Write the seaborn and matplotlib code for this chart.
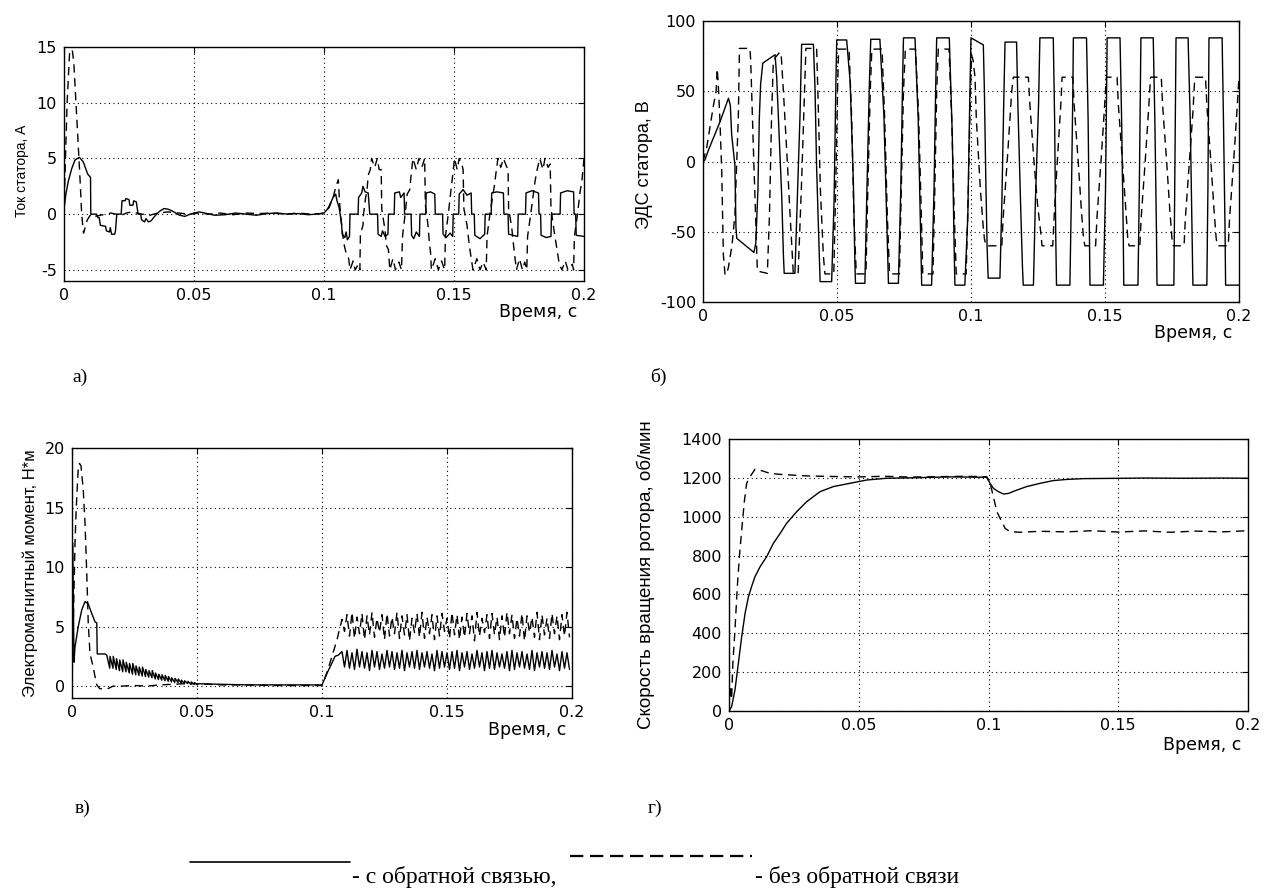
import numpy as np
import pandas as pd
import matplotlib
matplotlib.use('Agg')
import matplotlib.pyplot as plt
import seaborn as sns
from matplotlib.lines import Line2D

sns.set_theme(style='white')
plt.rcParams['font.family'] = ['DejaVu Sans']

W, H = 1273, 893

# --- data: (time, value) breakpoints ---
# a) stator current, A
a_fb = [(0, 0.5), (0.0008, 1.9), (0.0017, 3.0), (0.003, 4.1), (0.0042, 4.85), (0.0059, 5.1), (0.0074, 4.7),
        (0.0091, 3.6), (0.0102, 3.3), (0.0103, 0), (0.0125, 0), (0.013, -0.3), (0.0135, -0.3), (0.014, -1.0),
        (0.016, -1.1), (0.0163, -1.5), (0.0175, -1.6), (0.0178, -1.2), (0.0183, -1.8), (0.0195, -1.8),
        (0.0198, -1.5), (0.0203, 0), (0.022, 0), (0.0223, 1.2), (0.0235, 1.2), (0.0238, 1.4), (0.025, 1.3),
        (0.0253, 0.8), (0.0265, 0.8), (0.0268, 1.2), (0.0278, 1.1), (0.0285, 0), (0.0295, 0), (0.0298, -0.5),
        (0.031, -0.7), (0.0315, -0.4), (0.0325, -0.7), (0.0335, -0.6), (0.0345, -0.3), (0.0356, 0), (0.037, 0.3),
        (0.0385, 0.5), (0.04, 0.45), (0.0415, 0.3), (0.043, 0.1), (0.0445, -0.1), (0.0465, -0.2), (0.048, -0.05),
        (0.05, 0.1), (0.052, 0.2), (0.055, 0.05), (0.058, -0.1), (0.062, -0.05), (0.066, 0.1), (0.07, 0.0),
        (0.074, -0.1), (0.078, 0.05), (0.082, 0.1), (0.086, 0.0), (0.09, 0.05), (0.094, -0.05), (0.097, 0.0),
        (0.1, 0.1), (0.1015, 0.5), (0.1025, 1.0), (0.1035, 1.5), (0.1045, 1.8), (0.105, 1.2), (0.1058, 0.6),
        (0.1062, 0), (0.1068, -1.0), (0.107, -1.8), (0.108, -2.1), (0.1085, -1.6), (0.109, -2.3), (0.1098, -2.0),
        (0.11, 0), (0.1131, 0), (0.1133, 1.5), (0.1145, 1.9), (0.115, 2.5), (0.1158, 2.0), (0.117, 1.9),
        (0.1176, 0), (0.1206, 0), (0.1208, -1.8), (0.122, -2.0), (0.1225, -1.5), (0.1235, -2.0), (0.1246, -1.8),
        (0.1248, 0), (0.127, 0), (0.1272, 1.9), (0.129, 2.0), (0.1295, 1.5), (0.1308, 1.9), (0.131, 0),
        (0.1335, 0), (0.1337, -1.9), (0.1345, -2.2), (0.1355, -1.6), (0.1367, -2.0), (0.1369, 0), (0.1391, 0),
        (0.1393, 1.9), (0.141, 2.0), (0.1426, 1.8), (0.1428, 0), (0.1456, 0), (0.1458, -1.8), (0.147, -2.1),
        (0.1485, -1.7), (0.1495, -2.0), (0.1497, 0), (0.1518, 0), (0.152, 1.8), (0.1535, 2.2), (0.155, 1.7),
        (0.1566, 1.9), (0.1568, 0), (0.1578, 0), (0.158, -1.9), (0.16, -2.2), (0.1618, -1.8), (0.162, 0),
        (0.1643, 0), (0.1645, 1.9), (0.1665, 2.0), (0.169, 1.9), (0.1692, 0), (0.1708, 0), (0.171, -1.8),
        (0.1745, -2.0), (0.1747, 0), (0.1775, 0), (0.1777, 1.9), (0.18, 2.1), (0.1825, 1.9), (0.1827, 0),
        (0.1833, 0), (0.1835, -1.9), (0.1855, -2.1), (0.1873, -2.0), (0.1875, 0), (0.1908, 0), (0.191, 1.9),
        (0.1935, 2.1), (0.196, 2.0), (0.1962, 0), (0.1968, 0), (0.197, -1.9), (0.2, -2.0)]
a_nofb = [(0, 0), (0.0005, 4.5), (0.0012, 10), (0.0022, 14.7), (0.0032, 14.7), (0.0038, 13.5), (0.0046, 10),
          (0.0055, 6), (0.0062, 3), (0.0068, 0), (0.0075, -1.7), (0.0078, -1.5), (0.0085, -0.8), (0.009, -0.5),
          (0.0098, -0.2), (0.0105, 0), (0.012, -0.2), (0.014, -0.1), (0.016, 0), (0.018, 0.1), (0.02, 0),
          (0.022, -0.1), (0.024, 0.1), (0.026, 0.2), (0.028, 0.1), (0.03, 0), (0.033, -0.1), (0.036, 0.1),
          (0.04, 0.2), (0.044, 0.1), (0.048, 0), (0.052, 0.1), (0.056, 0), (0.06, 0.1), (0.065, -0.05),
          (0.07, 0.1), (0.075, 0.05), (0.08, 0.1), (0.085, 0), (0.09, 0.1), (0.095, 0), (0.099, 0.05),
          (0.1, 0.1), (0.102, 0.6), (0.1035, 1.5), (0.1045, 2.4), (0.1055, 3.1), (0.106, 1.0), (0.1068, -1.0),
          (0.1075, -2.5), (0.1085, -3.5), (0.1095, -4.0), (0.11, -5.0), (0.1112, -4.2), (0.112, -5.0),
          (0.1132, -4.5), (0.1138, -5.0), (0.114, -1.8), (0.115, -1.0), (0.1152, 0), (0.116, 1.5), (0.1165, 2.0),
          (0.117, 3.5), (0.1178, 4.0), (0.1183, 5.0), (0.1195, 4.2), (0.1205, 5.0), (0.1212, 4.0), (0.122, 4.0),
          (0.1222, 0.5), (0.1235, -1.5), (0.124, -2.8), (0.1248, -3.2), (0.1253, -5.0), (0.1265, -4.0),
          (0.1275, -5.0), (0.1288, -4.3), (0.1298, -5.0), (0.1302, -2.0), (0.1312, 0), (0.132, 1.8),
          (0.133, 2.2), (0.1335, 3.5), (0.1342, 5.0), (0.1355, 4.0), (0.1365, 5.0), (0.1378, 4.3), (0.1387, 5.0),
          (0.139, 0.8), (0.14, -1.0), (0.1405, -2.5), (0.141, -3.5), (0.1413, -5.0), (0.1428, -4.0),
          (0.144, -5.0), (0.1452, -4.2), (0.1464, -5.0), (0.1467, -2.0), (0.1478, 0), (0.1485, 1.5),
          (0.149, 2.5), (0.1495, 3.5), (0.1502, 5.0), (0.1512, 4.0), (0.152, 5.0), (0.153, 4.5), (0.1535, 4.0),
          (0.1538, 0.5), (0.155, -1.0), (0.156, -3.0), (0.1573, -5.0), (0.1588, -4.0), (0.16, -5.0),
          (0.1612, -4.3), (0.1624, -5.0), (0.1627, -2.0), (0.1638, 0), (0.1648, 1.5), (0.1655, 2.5),
          (0.1662, 3.8), (0.1669, 5.0), (0.168, 4.2), (0.169, 5.0), (0.17, 4.4), (0.1708, 4.0), (0.171, 0.5),
          (0.1722, -1.2), (0.173, -3.0), (0.174, -5.0), (0.1752, -4.0), (0.1763, -5.0), (0.1772, -4.3),
          (0.178, -5.0), (0.1783, -2.0), (0.1795, 0), (0.1805, 1.8), (0.1812, 3.0), (0.182, 4.0), (0.183, 5.0),
          (0.1842, 4.0), (0.185, 5.0), (0.1862, 4.2), (0.187, 4.5), (0.1873, 0.5), (0.1885, -1.5),
          (0.1895, -3.0), (0.1905, -4.5), (0.1915, -5.0), (0.1928, -4.2), (0.1938, -5.0), (0.1955, -4.5),
          (0.196, -5.0), (0.1963, -2.0), (0.1975, 0), (0.1985, 2.0), (0.1992, 3.0), (0.2, 5.0)]

# b) stator EMF, V
b_fb = [(0, 0), (0.0007, 1), (0.002, 8), (0.0035, 15), (0.005, 22), (0.0063, 28), (0.0078, 36), (0.0095, 45),
        (0.0102, 40), (0.0107, 19), (0.0119, -2.5), (0.0123, -47), (0.0126, -54.7), (0.019, -64.7),
        (0.0197, -58), (0.0205, -20), (0.021, 30), (0.0215, 55), (0.0223, 70), (0.0269, 76), (0.0275, 60),
        (0.0281, 33), (0.0294, -26), (0.03, -66.5), (0.0303, -79.6), (0.0343, -79.6), (0.035, -38), (0.0362, 33),
        (0.0368, 83.4), (0.0412, 83.4), (0.0418, 52), (0.0424, -5), (0.0434, -66.5), (0.0437, -85.5),
        (0.048, -85.5), (0.0489, -28.6), (0.0496, 57), (0.0499, 86.5), (0.0536, 86.5), (0.0549, 57),
        (0.0561, -14), (0.0567, -74), (0.0569, -86.7), (0.0604, -86.7), (0.0611, -26), (0.0621, 57),
        (0.0626, 87), (0.066, 87), (0.0675, 33), (0.0685, -38), (0.0692, -86.7), (0.0729, -86.7),
        (0.0738, -20), (0.0745, 60), (0.0748, 88), (0.0791, 88), (0.0803, 30), (0.0812, -50), (0.0816, -88),
        (0.0853, -88), (0.0862, -20), (0.0868, 50), (0.0872, 88), (0.0919, 88), (0.093, 20), (0.0937, -60),
        (0.094, -88), (0.0977, -88), (0.0988, -40), (0.0995, 40), (0.1, 88), (0.1046, 83), (0.105, 50),
        (0.1055, -10), (0.106, -60), (0.1064, -83), (0.1108, -83), (0.1115, -30), (0.1122, 40), (0.1127, 85),
        (0.117, 85), (0.1175, 40), (0.1185, -30), (0.1192, -75), (0.1195, -88), (0.1233, -88), (0.124, -30),
        (0.1252, 40), (0.1257, 88), (0.1307, 88), (0.1312, 30), (0.1316, -50), (0.1319, -88), (0.1369, -88),
        (0.1375, -20), (0.138, 50), (0.1382, 88), (0.1431, 88), (0.1437, 30), (0.1442, -50), (0.1444, -88),
        (0.1494, -88), (0.1502, -20), (0.1508, 88), (0.1556, 88), (0.1562, 30), (0.1568, -50), (0.157, -88),
        (0.1623, -88), (0.1628, -20), (0.1634, 88), (0.168, 88), (0.1686, 30), (0.1692, -50), (0.1694, -88),
        (0.1757, -88), (0.176, -20), (0.1765, 88), (0.181, 88), (0.1818, 30), (0.1825, -50), (0.1828, -88),
        (0.188, -88), (0.1884, -20), (0.1888, 88), (0.1937, 88), (0.1942, 30), (0.1948, -50), (0.195, -88),
        (0.2, -88)]
b_nofb = [(0, 0), (0.0014, 10), (0.0039, 40), (0.0049, 50), (0.0053, 66), (0.0057, 55), (0.0063, 30),
          (0.007, -7), (0.0076, -66.5), (0.0082, -80), (0.0088, -80.7), (0.0095, -75), (0.0108, -60),
          (0.0119, -38), (0.0132, 33), (0.0136, 80.5), (0.0175, 80.5), (0.0178, 72), (0.0188, 9), (0.0198, -50),
          (0.0203, -78), (0.024, -79.6), (0.0248, -38), (0.0256, 33), (0.0262, 69), (0.027, 74), (0.0287, 78),
          (0.0292, 75), (0.03, 50), (0.0312, 9), (0.0325, -38), (0.0337, -79.6), (0.0355, -79.6), (0.0368, -14),
          (0.038, 57), (0.0384, 80.5), (0.0424, 80.5), (0.043, 40), (0.0438, -20), (0.0449, -66.5), (0.0455, -80),
          (0.0488, -80), (0.0495, -20), (0.0502, 50), (0.0506, 80), (0.0545, 80), (0.0555, 30), (0.0563, -40),
          (0.0572, -80), (0.0608, -80), (0.0615, -20), (0.0624, 50), (0.063, 80), (0.0668, 80), (0.0678, 30),
          (0.0688, -40), (0.0696, -80), (0.0733, -80), (0.074, -20), (0.0748, 50), (0.0755, 80), (0.0793, 80),
          (0.0805, 30), (0.0815, -40), (0.082, -80), (0.0858, -80), (0.0865, -20), (0.0872, 50), (0.0878, 80),
          (0.0918, 80), (0.0928, 30), (0.0938, -40), (0.0945, -80), (0.0982, -80), (0.099, -20), (0.0998, 50),
          (0.1002, 76), (0.1008, 72), (0.1015, 60), (0.102, 30), (0.1035, -20), (0.1045, -45), (0.105, -55),
          (0.1056, -60), (0.1115, -60), (0.112, -40), (0.1135, 0), (0.1145, 30), (0.1152, 50), (0.1158, 60),
          (0.1214, 60), (0.122, 40), (0.1235, 0), (0.1248, -30), (0.126, -50), (0.1265, -60), (0.1305, -60),
          (0.131, -40), (0.1322, 0), (0.1335, 40), (0.134, 60), (0.138, 60), (0.1385, 40), (0.14, 0),
          (0.1412, -35), (0.142, -55), (0.1425, -60), (0.1465, -60), (0.147, -40), (0.1485, 0), (0.1497, 35),
          (0.1505, 60), (0.1545, 60), (0.155, 40), (0.1565, 0), (0.1578, -35), (0.1585, -55), (0.159, -60),
          (0.163, -60), (0.1635, -40), (0.165, 0), (0.1662, 35), (0.167, 60), (0.171, 60), (0.1715, 40),
          (0.173, 0), (0.1742, -35), (0.175, -55), (0.1755, -60), (0.1795, -60), (0.18, -40), (0.1815, 0),
          (0.1828, 35), (0.1835, 60), (0.1875, 60), (0.188, 40), (0.1895, 0), (0.1907, -35), (0.1915, -55),
          (0.192, -60), (0.196, -60), (0.1965, -40), (0.198, 0), (0.1992, 35), (0.2, 60)]

# c) electromagnetic torque, N*m
c_fb_start = [(0, 0), (0.0003, 12), (0.0005, 8), (0.0008, 2), (0.0012, 3.3), (0.0025, 5), (0.0039, 6.4),
              (0.0052, 7.1), (0.0065, 6.9), (0.0079, 6.1), (0.0092, 5.4), (0.0099, 5.3), (0.0101, 2.7),
              (0.0132, 2.7)]
c_saw_t = [0.0139, 0.0152, 0.0165, 0.0178, 0.0191, 0.0204, 0.0217, 0.0230, 0.0243, 0.0256, 0.0269, 0.0282,
           0.0295, 0.0308, 0.0321, 0.0334, 0.0347, 0.0360, 0.0373, 0.0386, 0.0399, 0.0412, 0.0425, 0.0438,
           0.0451, 0.0464, 0.0477, 0.0490]
c_saw_hi = [2.6, 2.5, 2.5, 2.3, 2.2, 2.2, 2.0, 1.9, 1.9, 1.7, 1.6, 1.6, 1.4, 1.3, 1.3, 1.1, 1.0, 0.95, 0.9,
            0.8, 0.7, 0.65, 0.6, 0.5, 0.45, 0.4, 0.35, 0.3]
c_saw_lo = [1.5, 1.5, 1.4, 1.3, 1.2, 1.2, 1.1, 1.0, 0.95, 0.9, 0.85, 0.8, 0.75, 0.7, 0.6, 0.55, 0.5, 0.45,
            0.4, 0.35, 0.3, 0.3, 0.25, 0.2, 0.2, 0.15, 0.15, 0.1]
c_fb_mid = [(0.05, 0.2), (0.06, 0.15), (0.07, 0.1), (0.08, 0.1), (0.09, 0.1), (0.1, 0.1), (0.1025, 1.3),
            (0.1039, 1.9), (0.1052, 2.5), (0.1065, 2.6)]
c_nofb_start = [(0, 0), (0.0004, 4), (0.0008, 8), (0.0012, 12), (0.0017, 15), (0.0025, 18.3), (0.003, 18.7),
                (0.0036, 18.5), (0.0045, 16.5), (0.0052, 13.7), (0.0059, 9.5), (0.0065, 5.3), (0.0072, 2.7),
                (0.0085, 1.6), (0.0092, 0.8), (0.0099, 0.1), (0.011, -0.2), (0.0125, -0.25), (0.0145, -0.2),
                (0.0165, 0), (0.02, 0), (0.025, 0.05), (0.03, 0), (0.035, 0.1), (0.04, 0.15), (0.045, 0.2),
                (0.05, 0.2), (0.055, 0.15), (0.06, 0.1), (0.07, 0.1), (0.08, 0.05), (0.09, 0.05), (0.1, 0.05),
                (0.1019, 1.1), (0.104, 2.5), (0.106, 3.9)]
c_rip_t = [0.108, 0.110, 0.112, 0.114, 0.116, 0.118, 0.120, 0.122, 0.124, 0.126, 0.128, 0.130, 0.132, 0.134,
           0.136, 0.138, 0.140, 0.142, 0.144, 0.146, 0.148, 0.150, 0.152, 0.154, 0.156, 0.158, 0.160, 0.162,
           0.164, 0.166, 0.168, 0.170, 0.172, 0.174, 0.176, 0.178, 0.180, 0.182, 0.184, 0.186, 0.188, 0.190,
           0.192, 0.194, 0.196, 0.198]
c_fb_hi = [2.9, 3.0, 2.8, 3.1, 2.9, 2.8, 3.0, 2.9, 2.7, 3.0, 2.9, 2.8, 3.0, 2.8, 2.9, 3.0, 2.8, 2.9, 2.7, 3.0,
           2.9, 2.8, 2.9, 3.0, 2.8, 2.9, 2.7, 3.0, 2.8, 2.9, 3.0, 2.8, 2.7, 2.9, 3.0, 2.8, 2.9, 2.7, 3.0, 2.8,
           2.9, 2.8, 3.0, 2.7, 2.9, 2.8]
c_fb_lo = [1.6, 1.5, 1.4, 1.6, 1.5, 1.3, 1.6, 1.4, 1.5, 1.6, 1.4, 1.5, 1.3, 1.6, 1.5, 1.4, 1.6, 1.5, 1.3, 1.5,
           1.6, 1.4, 1.5, 1.3, 1.6, 1.4, 1.5, 1.6, 1.3, 1.5, 1.4, 1.6, 1.5, 1.3, 1.4, 1.6, 1.5, 1.4, 1.3, 1.6,
           1.5, 1.4, 1.6, 1.3, 1.5, 1.4]
c_nofb_hi = [5.6, 6.0, 6.2, 5.8, 6.1, 5.9, 6.2, 5.7, 6.0, 6.1, 5.8, 6.2, 5.9, 6.0, 5.7, 6.1, 6.2, 5.8, 6.0, 5.9,
             6.1, 5.7, 6.2, 6.0, 5.8, 6.1, 5.9, 6.2, 5.7, 6.0, 6.1, 5.8, 5.9, 6.2, 6.0, 5.7, 6.1, 5.9, 5.8, 6.2,
             6.0, 5.7, 6.1, 5.9, 6.0, 6.2]
c_nofb_lo = [4.6, 4.2, 4.0, 4.4, 3.9, 4.3, 4.1, 4.5, 3.9, 4.2, 4.4, 4.0, 4.3, 3.8, 4.5, 4.1, 4.0, 4.4, 3.9, 4.2,
             4.6, 4.0, 4.3, 3.9, 4.1, 4.4, 3.8, 4.2, 4.5, 4.0, 4.3, 3.9, 4.1, 4.4, 4.0, 4.2, 3.8, 4.5, 4.1, 3.9,
             4.3, 4.0, 4.4, 3.9, 4.2, 4.1]

# d) rotor speed, rpm
d_fb = [(0, 0), (0.001, 22), (0.0023, 108), (0.0036, 245), (0.0049, 383), (0.0062, 503), (0.0075, 588),
        (0.0087, 640), (0.01, 691), (0.012, 743), (0.0145, 794), (0.0171, 863), (0.0197, 914), (0.0222, 966),
        (0.0261, 1026), (0.0299, 1077), (0.0351, 1129), (0.0402, 1155), (0.0466, 1172), (0.0531, 1189),
        (0.0608, 1198), (0.07, 1200), (0.0788, 1203), (0.085, 1205), (0.0993, 1203), (0.1006, 1172),
        (0.1019, 1146), (0.1038, 1129), (0.1058, 1117), (0.1077, 1120), (0.1103, 1134), (0.1147, 1155),
        (0.1199, 1172), (0.125, 1186), (0.1302, 1192), (0.1366, 1196), (0.145, 1197), (0.16, 1199),
        (0.175, 1198), (0.19, 1199), (0.2, 1198)]
d_nofb = [(0, 0), (0.0005, 130), (0.001, 60), (0.0015, 250), (0.0023, 417), (0.0032, 640), (0.004, 794),
          (0.0049, 932), (0.0059, 1077), (0.0068, 1172), (0.0081, 1206), (0.01, 1244), (0.0126, 1237),
          (0.0158, 1223), (0.0197, 1218), (0.0235, 1215), (0.03, 1210), (0.04, 1207), (0.05, 1205), (0.06, 1208),
          (0.07, 1204), (0.08, 1206), (0.09, 1208), (0.0993, 1206), (0.1006, 1172), (0.1019, 1103),
          (0.1032, 1026), (0.1051, 975), (0.1064, 940), (0.1083, 923), (0.1122, 920), (0.12, 925), (0.13, 922),
          (0.14, 928), (0.15, 921), (0.16, 927), (0.17, 920), (0.18, 926), (0.19, 922), (0.2, 928)]

x_ticks = [0, 0.05, 0.1, 0.15, 0.2]
x_tick_labels = ['0', '0.05', '0.1', '0.15', '0.2']


def saw(t_list, hi, lo, dt):
    pts = []
    for t0, h, l in zip(t_list, hi, lo):
        pts += [(t0, h), (t0 + dt, l)]
    return pts


def frame(fb, nofb):
    a = pd.DataFrame(fb, columns=['t', 'v'])
    a['series'] = 'fb'
    b = pd.DataFrame(nofb, columns=['t', 'v'])
    b['series'] = 'nofb'
    return pd.concat([a, b], ignore_index=True)


c_fb = c_fb_start + saw(c_saw_t, c_saw_hi, c_saw_lo, 0.0012) + c_fb_mid + saw(c_rip_t, c_fb_hi, c_fb_lo, 0.001)
c_nofb = c_nofb_start + saw(c_rip_t, c_nofb_hi, c_nofb_lo, 0.001)

fig = plt.figure(figsize=(W / 100, H / 100), dpi=100)
fig.patch.set_facecolor('white')


def panel(box, df, ylim, yticks, ylabel, ylab_x, ylab_y, ylab_size, xlab_y):
    l, t, r, b = box
    ax = fig.add_axes([l / W, 1 - b / H, (r - l) / W, (b - t) / H])
    sns.lineplot(data=df, x='t', y='v', style='series', dashes={'fb': '', 'nofb': (6, 4)},
                 color='black', linewidth=1.0, estimator=None, sort=False, legend=False, ax=ax)
    ax.set_xlim(0, 0.2)
    ax.set_ylim(*ylim)
    ax.set_xticks(x_ticks)
    ax.set_xticklabels(x_tick_labels)
    ax.set_yticks(yticks)
    ax.set_yticklabels([str(v) for v in yticks])
    ax.grid(True, color='black', linestyle=(0, (1, 3)), linewidth=0.8)
    for s in ax.spines.values():
        s.set_color('black')
        s.set_linewidth(1.0)
    ax.tick_params(direction='in', length=4, width=0.8, color='black', top=True, right=True,
                   labelsize=11.5, labelcolor='black', pad=5)
    ax.set_xlabel('')
    ax.set_ylabel(ylabel, family='Liberation Sans', fontsize=ylab_size, color='black')
    ax.yaxis.set_label_coords(ylab_x, ylab_y)
    ax.text(0.988, xlab_y, 'Время, с', transform=ax.transAxes, ha='right', va='center',
            fontsize=12.5, color='black')
    return ax


panel((64, 47, 584, 281), frame(a_fb, a_nofb), (-6, 15), [-5, 0, 5, 10, 15], 'Ток статора, А',
      -0.068, 0.47, 10, -0.132)
panel((703, 21, 1239, 302), frame(b_fb, b_nofb), (-100, 100), [-100, -50, 0, 50, 100], 'ЭДС статора, В',
      -0.093, 0.49, 13, -0.110)
panel((72, 448, 572, 698), frame(c_fb, c_nofb), (-1, 20), [0, 5, 10, 15, 20], 'Электромагнитный момент, Н*м',
      -0.068, 0.5, 12, -0.128)
panel((729, 439, 1248, 711), frame(d_fb, d_nofb), (0, 1400), [0, 200, 400, 600, 800, 1000, 1200, 1400],
      'Скорость вращения ротора, об/мин', -0.143, 0.5, 13.5, -0.125)

serif = 'Liberation Serif'
for x, y, s in [(72, 377, 'а)'), (650, 377, 'б)'), (75, 808, 'в)'), (648, 808, 'г)')]:
    fig.text(x / W, 1 - y / H, s, family=serif, fontsize=14, va='center', ha='left', color='black')

# legend row at the bottom
fig.add_artist(Line2D([190 / W, 350 / W], [1 - 862 / H] * 2, color='black', lw=1.2))
fig.text(352 / W, 1 - 877 / H, '- с обратной связью,', family=serif, fontsize=17, va='center', color='black')
fig.add_artist(Line2D([570 / W, 752 / W], [1 - 856 / H] * 2, color='black', lw=1.6, linestyle=(0, (6, 3))))
fig.text(755 / W, 1 - 877 / H, '- без обратной связи', family=serif, fontsize=17, va='center', color='black')

fig.savefig('out.png', dpi=100, facecolor='white')
